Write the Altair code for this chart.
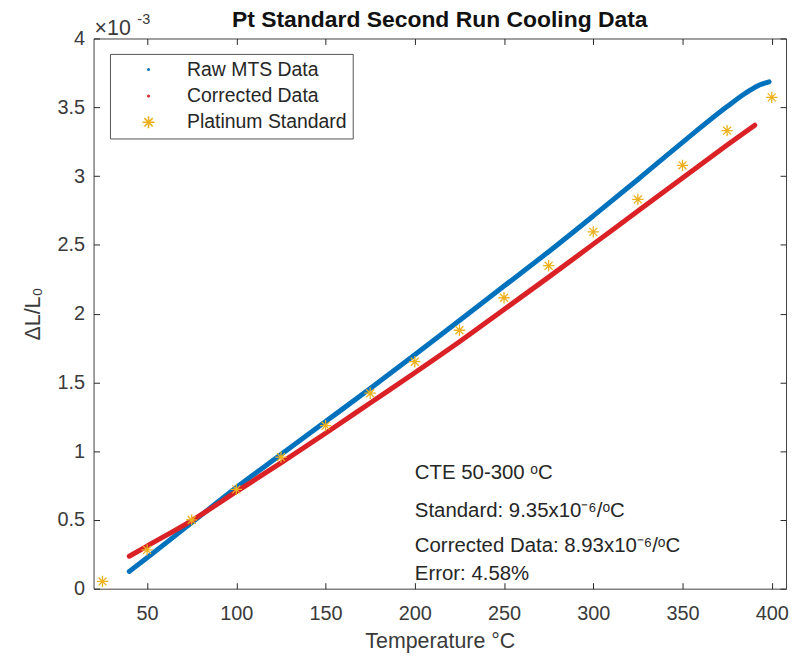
import altair as alt
import pandas as pd

# ---------------- data (values in units of 1e-3) ----------------
raw_T = [40, 50, 75, 100, 125, 150, 175, 200, 225, 250, 275, 300, 325, 350, 375, 385, 392, 398.5]
raw_v = [0.125, 0.225, 0.48, 0.735, 0.975, 1.215, 1.455, 1.70, 1.95, 2.20, 2.45, 2.71, 2.975, 3.245, 3.505, 3.60, 3.655, 3.685]

cor_T = [40, 50, 75, 100, 125, 150, 175, 200, 225, 250, 275, 300, 325, 350, 375, 390.5]
cor_v = [0.236, 0.31, 0.495, 0.705, 0.915, 1.13, 1.35, 1.57, 1.795, 2.03, 2.265, 2.505, 2.745, 2.985, 3.225, 3.37]

std_T = [25, 50, 75, 100, 125, 150, 175, 200, 225, 250, 275, 300, 325, 350, 375, 400]
std_v = [0.053, 0.282, 0.50, 0.722, 0.956, 1.185, 1.421, 1.65, 1.879, 2.115, 2.348, 2.594, 2.83, 3.078, 3.33, 3.572]

series = ["Raw MTS Data", "Corrected Data", "Platinum Standard"]
colors = ["#0072BD", "#DA2125", "#EDB120"]

x_ticks = [50, 100, 150, 200, 250, 300, 350, 400]
y_ticks = [0, 0.5, 1, 1.5, 2, 2.5, 3, 3.5, 4]

annot_lines = ["CTE 50-300 \u1d52C",
               "Standard: 9.35x10\u207b\u2076/\u1d52C",
               "Corrected Data: 8.93x10\u207b\u2076/\u1d52C",
               "Error: 4.58%"]
annot_T = [200, 200, 200, 200]
annot_v = [0.84, 0.563, 0.31, 0.108]

# ---------------- tables ----------------
raw_df = pd.DataFrame({"T": raw_T, "v": raw_v, "series": series[0]})
cor_df = pd.DataFrame({"T": cor_T, "v": cor_v, "series": series[1]})
std_df = pd.DataFrame({"T": std_T, "v": std_v, "series": series[2]})
ann_df = pd.DataFrame({"T": annot_T, "v": annot_v, "txt": annot_lines})
exp_df = pd.DataFrame({"T": [20], "v": [4]})

FONT = "Liberation Sans"
INK = "#262626"

xscale = alt.Scale(domain=[20, 408], nice=False, zero=False)
yscale = alt.Scale(domain=[0, 4], nice=False, zero=False)

x_bottom = alt.Axis(orient="bottom", values=x_ticks, offset=-6, tickSize=6, domain=False,
                    grid=False, labelPadding=15, labelFontSize=20, labelFont=FONT,
                    labelColor="#3a3a3a", tickColor=INK, title="Temperature \u00b0C",
                    titleFontSize=21.5, titleFont=FONT, titleFontWeight="normal",
                    titleColor="#3a3a3a", titlePadding=7)
y_left = alt.Axis(orient="left", values=y_ticks, offset=-6, tickSize=6, domain=False,
                  grid=False, labelPadding=9, labelFontSize=20, labelFont=FONT,
                  labelColor="#3a3a3a", tickColor=INK, format="~g",
                  title="\u0394L/L\u2080", titleFontSize=21.5, titleFont=FONT,
                  titleFontWeight="normal", titleColor="#3a3a3a", titlePadding=13)
x_top = alt.Axis(orient="top", values=x_ticks, offset=-6, tickSize=6, domain=False,
                 grid=False, labels=False, title=None, tickColor=INK)
y_right = alt.Axis(orient="right", values=y_ticks, offset=-6, tickSize=6, domain=False,
                   grid=False, labels=False, title=None, tickColor=INK)

dot = "M-0.12,0A0.12,0.12,0,1,1,0.12,0A0.12,0.12,0,1,1,-0.12,0Z"
star = "M0,-1L0,1M-1,0L1,0M-0.7,-0.7L0.7,0.7M-0.7,0.7L0.7,-0.7"

leg = alt.Legend(orient="none", legendX=16.5, legendY=15.5, title=None,
                 labelFontSize=19.5, labelFont=FONT, labelColor="#262626",
                 labelLimit=300, symbolSize=144, symbolStrokeWidth=1.6, padding=6,
                 symbolOffset=23, labelOffset=29, rowPadding=5.5,
                 strokeColor="#555555", fillColor="white", symbolOpacity=1)

raw_line = alt.Chart(raw_df).mark_line(strokeWidth=5, strokeCap="round",
                                       interpolate="monotone", color=colors[0]).encode(
    x=alt.X("T:Q", scale=xscale, axis=x_bottom),
    y=alt.Y("v:Q", scale=yscale, axis=y_left),
)
cor_line = alt.Chart(cor_df).mark_line(strokeWidth=5, strokeCap="round",
                                       interpolate="monotone", color=colors[1]).encode(
    x=alt.X("T:Q", scale=xscale, axis=None),
    y=alt.Y("v:Q", scale=yscale, axis=None),
)
stars = alt.Chart(std_df).mark_point(filled=False, size=130, strokeWidth=1.3, opacity=1).encode(
    x=alt.X("T:Q", scale=xscale, axis=x_top),
    y=alt.Y("v:Q", scale=yscale, axis=y_right),
    color=alt.Color("series:N", scale=alt.Scale(domain=series, range=colors), legend=leg),
    shape=alt.Shape("series:N", scale=alt.Scale(domain=series, range=[dot, dot, star]), legend=leg),
)
ann = alt.Chart(ann_df).mark_text(align="left", baseline="middle", fontSize=20.5,
                                  font=FONT, color="#262626").encode(
    x=alt.X("T:Q", scale=xscale, axis=None),
    y=alt.Y("v:Q", scale=yscale, axis=None),
    text="txt:N",
)
exp1 = alt.Chart(exp_df).mark_text(align="left", baseline="alphabetic", fontSize=21.5,
                                   font=FONT, color="#3a3a3a", dx=1, dy=-4).encode(
    x=alt.X("T:Q", scale=xscale, axis=None),
    y=alt.Y("v:Q", scale=yscale, axis=None),
    text=alt.value("\u00d710"),
)
exp2 = alt.Chart(exp_df).mark_text(align="left", baseline="alphabetic", fontSize=14.5,
                                   font=FONT, color="#3a3a3a", dx=44, dy=-15).encode(
    x=alt.X("T:Q", scale=xscale, axis=None),
    y=alt.Y("v:Q", scale=yscale, axis=None),
    text=alt.value("-3"),
)

chart = alt.layer(raw_line, cor_line, stars, ann, exp1, exp2).resolve_axis(
    x="independent", y="independent"
).properties(
    width=696, height=553,
    autosize=alt.AutoSizeParams(type="none"),
    padding={"left": 86, "top": 29, "right": 4, "bottom": 63},
    background="white",
    title=alt.TitleParams(text="Pt Standard Second Run Cooling Data", fontSize=23,
                          fontWeight="bold", font=FONT, color="#111111",
                          anchor="middle", offset=-20),
).configure_view(stroke="#404040", strokeWidth=1)

chart.save("out.html", embed_options={"renderer": "svg", "actions": False})
